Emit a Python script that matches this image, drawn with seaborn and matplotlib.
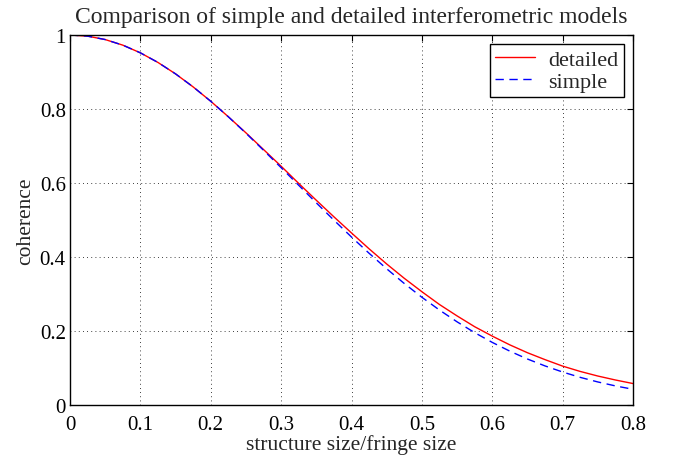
import numpy as np
import pandas as pd
import matplotlib
matplotlib.use("Agg")
import matplotlib.pyplot as plt
import seaborn as sns
from matplotlib.lines import Line2D

x_vals = [0.0, 0.025, 0.05, 0.075, 0.1, 0.125, 0.15, 0.175, 0.2, 0.225, 0.25,
          0.275, 0.3, 0.325, 0.35, 0.375, 0.4, 0.425, 0.45, 0.475, 0.5,
          0.525, 0.55, 0.575, 0.6, 0.625, 0.65, 0.675, 0.7, 0.725, 0.75,
          0.775, 0.8]
detailed = [1.0, 0.9969, 0.9877, 0.9726, 0.9518, 0.9258, 0.8949, 0.8597,
            0.8209, 0.7790, 0.7356, 0.6905, 0.6454, 0.5988, 0.5533, 0.5086,
            0.4650, 0.4221, 0.3811, 0.3424, 0.3062, 0.2716, 0.2408, 0.2116,
            0.1862, 0.1625, 0.1413, 0.1226, 0.1051, 0.0907, 0.0783, 0.0676,
            0.0580]
simple = [1.0, 0.9969, 0.9877, 0.9726, 0.9518, 0.9258, 0.8949, 0.8597,
          0.8209, 0.7790, 0.7346, 0.6885, 0.6414, 0.5938, 0.5463, 0.4996,
          0.4540, 0.4101, 0.3681, 0.3284, 0.2912, 0.2566, 0.2248, 0.1956,
          0.1692, 0.1455, 0.1243, 0.1056, 0.0891, 0.0747, 0.0623, 0.0516,
          0.0425]
x_ticks = [0, 0.1, 0.2, 0.3, 0.4, 0.5, 0.6, 0.7, 0.8]
x_tick_labels = ["0", "0.1", "0.2", "0.3", "0.4", "0.5", "0.6", "0.7", "0.8"]
y_ticks = [0, 0.2, 0.4, 0.6, 0.8, 1.0]
y_tick_labels = ["0", "0.2", "0.4", "0.6", "0.8", "1"]

sns.set_theme(style="white")
plt.rcParams['font.family'] = ['Liberation Serif', 'DejaVu Serif']

df = pd.DataFrame({
    "x": x_vals * 2,
    "coherence": detailed + simple,
    "model": ["detailed"] * len(x_vals) + ["simple"] * len(x_vals),
})

fig = plt.figure(figsize=(6.76, 4.64), dpi=100)
ax = fig.add_axes([70 / 676, 58 / 464, 563 / 676, 370 / 464])

sns.lineplot(data=df, x="x", y="coherence", hue="model", style="model",
             palette={"detailed": "#ff0000", "simple": "#0000ff"},
             dashes={"detailed": "", "simple": (6, 4)},
             linewidth=1.0, ax=ax, legend=False)

ax.set_xlim(0, 0.8)
ax.set_ylim(0, 1)
ax.set_xticks(x_ticks)
ax.set_xticklabels(x_tick_labels)
ax.set_yticks(y_ticks)
ax.set_yticklabels(y_tick_labels)
ax.grid(True, color="black", linestyle=(0, (1, 4)), linewidth=0.6)
ax.tick_params(direction="in", length=4, width=0.8, top=True, right=True,
               labelsize=15, colors="black")
ax.tick_params(axis="x", pad=7)
ax.tick_params(axis="y", pad=3)
for s in ax.spines.values():
    s.set_color("black")
    s.set_linewidth(1.0)

ax.set_xlabel("structure size/fringe size", fontsize=15.5, labelpad=0)
ax.set_ylabel("coherence", fontsize=15.5, labelpad=3)
ax.set_title("Comparison of simple and detailed interferometric models",
             fontsize=17, pad=9)

handles = [Line2D([0], [0], color="#ff0000", lw=1.0),
           Line2D([0], [0], color="#0000ff", lw=1.0, dashes=(6, 4))]
leg = ax.legend(handles, ["detailed", "simple"], loc="upper right",
                fontsize=16, frameon=True, fancybox=False, framealpha=1,
                edgecolor="black", borderpad=0.25, handlelength=1.8,
                labelspacing=0.05, borderaxespad=0.4, handletextpad=0.6)
leg.get_frame().set_linewidth(1.0)

fig.savefig("out.png", dpi=100)
